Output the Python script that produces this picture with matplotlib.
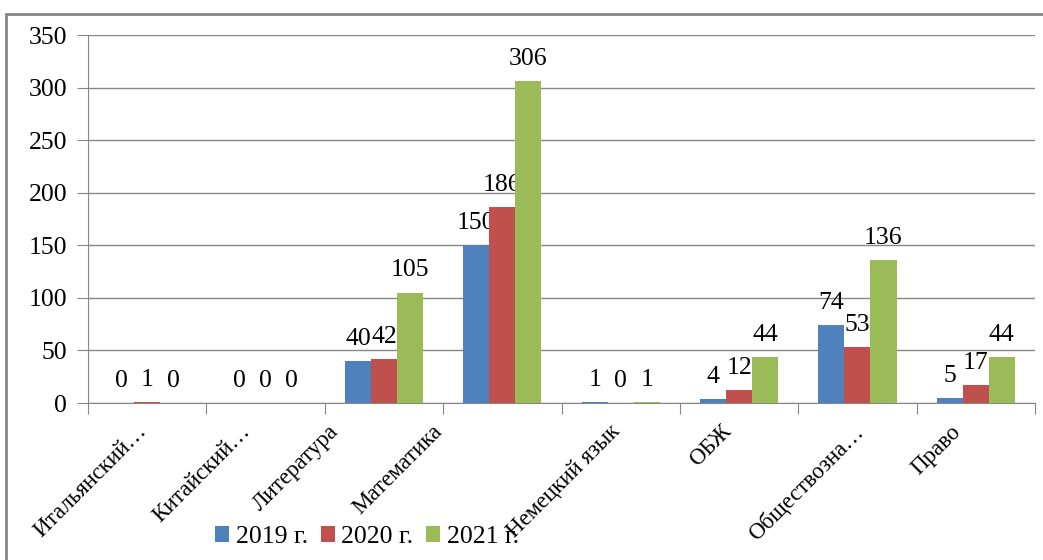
import numpy as np
import matplotlib.pyplot as plt
import matplotlib.transforms as mtransforms
from matplotlib.patches import Rectangle

categories = ['Итальянский…', 'Китайский…', 'Литература', 'Математика',
              'Немецкий язык', 'ОБЖ', 'Обществозна…', 'Право']
years = ['2019 г.', '2020 г.', '2021 г.']
v2019 = [0, 0, 40, 150, 1, 4, 74, 5]
v2020 = [1, 0, 42, 186, 0, 12, 53, 17]
v2021 = [0, 0, 105, 306, 1, 44, 136, 44]
colors = ['#4F81BD', '#C0504D', '#9BBB59']
# horizontal nudge (px) of each rotated category label, as Excel places them
label_dx = [-11, -26, -56, -71, -11, -18, -5, -26]

plt.rcParams['font.family'] = 'serif'
plt.rcParams['font.serif'] = ['Liberation Serif', 'Times New Roman', 'DejaVu Serif']
fs = 18.5
fs_cat = 16.5

fig = plt.figure(figsize=(10.43, 5.6), dpi=100)
ax = fig.add_axes([88 / 1043, 1 - 403 / 560, (1035 - 88) / 1043, (403 - 35) / 560])

# outer chart border (right/bottom run off the picture)
fig.patches.append(Rectangle((6 / 1043, -0.05), 1.1, 1 - 14 / 560 + 0.05,
                             transform=fig.transFigure, fill=False,
                             edgecolor='#868686', lw=2))

x = np.arange(len(categories))
w = 0.22
for i, (vals, c, lab) in enumerate(zip([v2019, v2020, v2021], colors, years)):
    bars = ax.bar(x + (i - 1) * w, vals, w, color=c, label=lab, zorder=3)
    ax.bar_label(bars, labels=[str(v) for v in vals], padding=8, fontsize=fs)

ax.set_xlim(-0.5, len(categories) - 0.5)
ax.set_ylim(0, 350)
ax.set_yticks(range(0, 351, 50))
ax.yaxis.grid(True, color='#868686', lw=1)
ax.set_axisbelow(True)
for s in ['top', 'right']:
    ax.spines[s].set_visible(False)
for s in ['left', 'bottom']:
    ax.spines[s].set_color('#868686')
ax.tick_params(axis='y', length=8, color='#868686', labelsize=fs, pad=7)

ax.set_xticks(np.arange(-0.5, len(categories)), minor=False)
ax.set_xticklabels([''] * (len(categories) + 1))
ax.tick_params(axis='x', which='major', length=8, color='#868686')
ax.set_xticks(x, minor=True)
ax.set_xticklabels(categories, minor=True, rotation=45, ha='right',
                   va='top', rotation_mode='anchor', fontsize=fs_cat)
ax.tick_params(axis='x', which='minor', length=0, pad=13)
for t, dx in zip(ax.get_xticklabels(minor=True), label_dx):
    t.set_transform(t.get_transform() +
                    mtransforms.ScaledTranslation(dx / 100, 0, fig.dpi_scale_trans))

ax.legend(loc='center', bbox_to_anchor=(367 / 1043, 1 - 537 / 560),
          bbox_transform=fig.transFigure, ncol=3, frameon=False, fontsize=fs,
          handlelength=0.55, handleheight=0.55, handletextpad=0.25,
          columnspacing=0.5)

fig.savefig('out.png')
